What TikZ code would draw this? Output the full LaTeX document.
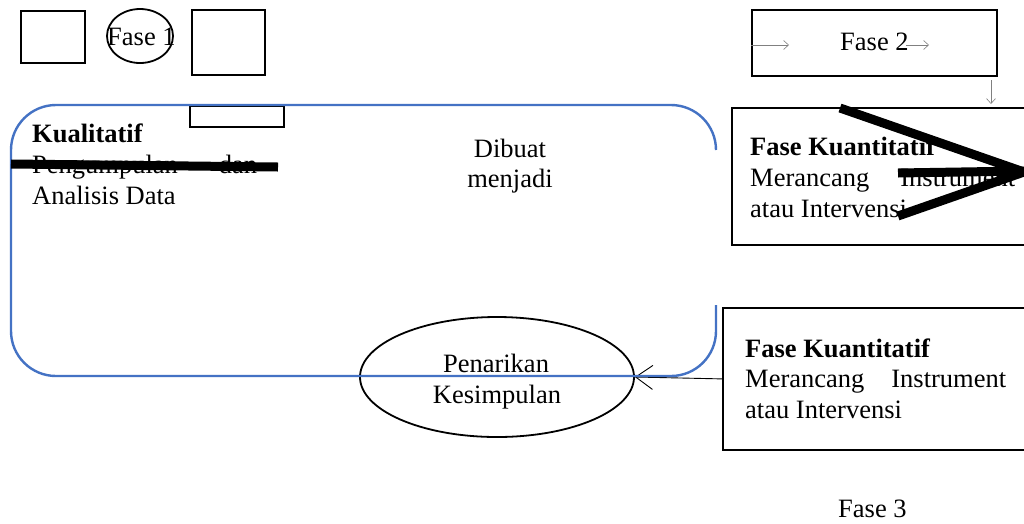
\documentclass[tikz,border=0pt]{standalone}
\usepackage{fontspec}
\setmainfont{Liberation Serif}
\usetikzlibrary{arrows.meta,shapes.geometric}
\definecolor{frameblue}{HTML}{4472C4}
\begin{document}
\begin{tikzpicture}[x=1pt,y=-1pt,
  every node/.style={font=\fontsize{26.5}{31}\selectfont},
  txt/.style={inner sep=0pt, anchor=base west},
  ctxt/.style={inner sep=0pt, anchor=base},
  frame/.style={draw=black, line width=1.8pt, inner sep=0pt, anchor=north west},
  oval/.style={ellipse, draw=black, line width=1.8pt, inner sep=0pt},
  thinarrow/.style={draw=gray, line width=0.6pt, -{Straight Barb[length=5pt,width=9pt]}},
  openarrow/.style={draw=black, line width=0.9pt, -{Straight Barb[length=17pt,width=24pt]}},
  strike/.style={line width=9pt, draw=black},
  blueframe/.style={draw=frameblue, line width=2.4pt, rounded corners=45pt},
  ]
\clip (0,0) rectangle (1024,523);
\fill[white] (0,0) rectangle (1024,523);

% top row: squares and the "Fase 1" oval
\node[frame, minimum width=64pt, minimum height=52pt] (sqA) at (20,10) {};
\node[oval, minimum width=66pt, minimum height=54pt] (ovA) at (140,36) {};
\node[txt] (fase1) at (107,45) {Fase 1};
\node[frame, minimum width=73pt, minimum height=65pt] (sqB) at (191,9) {};
\node[frame, minimum width=94pt, minimum height=21pt] (tab) at (189,105) {};

% Fase 2 box with its small arrows
\node[frame, minimum width=245pt, minimum height=66pt] (f2) at (751,9) {};
\node[txt] (fase2) at (840,50) {Fase 2};
\coordinate (a1s) at (751,45);
\coordinate (a1e) at (789,45);
\coordinate (a2s) at (906,45);
\coordinate (a2e) at (929,45);
\coordinate (dns) at (991,80);
\coordinate (dne) at (991,104);
\draw[thinarrow] (a1s) -- (a1e);
\draw[thinarrow] (a2s) -- (a2e);
\draw[thinarrow] (dns) -- (dne);

% quantitative boxes
\node[frame, minimum width=320pt, minimum height=137pt] (k1) at (731,107) {};
\node[txt, font=\fontsize{26.5}{31}\selectfont\bfseries] (k1a) at (750,155) {Fase Kuantitatif};
\node[txt] (k1b) at (750,186) {\hbox to 265pt{Merancang\hfill Instrument}};
\node[txt] (k1c) at (750,217) {atau Intervensi};

\node[frame, minimum width=320pt, minimum height=142pt] (k2) at (722,307) {};
\node[txt, font=\fontsize{26.5}{31}\selectfont\bfseries] (k2a) at (745,357) {Fase Kuantitatif};
\node[txt] (k2b) at (745,387) {\hbox to 261pt{Merancang\hfill Instrument}};
\node[txt] (k2c) at (745,418) {atau Intervensi};

% qualitative text
\node[txt, font=\fontsize{26.5}{31}\selectfont\bfseries] (q1) at (32,142) {Kualitatif};
\node[txt] (q2) at (32,173) {\hbox to 225pt{Pengumpulan\hfill dan}};
\node[txt] (q3) at (32,204) {Analisis Data};

\node[ctxt] (d1) at (510,157) {Dibuat};
\node[ctxt] (d2) at (510,187) {menjadi};

% conclusion oval
\node[oval, minimum width=274pt, minimum height=120pt] (pk) at (497,377) {};
\node[ctxt] (pk1) at (496,372) {Penarikan};
\node[ctxt] (pk2) at (497,403) {Kesimpulan};
\draw[openarrow] (k2.west) -- (pk.east);

% open blue frame
\draw[blueframe] (716,150) -- (716,105) -- (11,105) -- (11,376) -- (716,376) -- (716,305);

% heavy strokes
\draw[strike] (11,164) -- (278,167);
\draw[strike, line join=miter] (840,108) -- (1024,172) -- (898,216);
\draw[strike] (898,173) -- (1024,171);

\node[txt] (fase3) at (838,517) {Fase 3};
\end{tikzpicture}
\end{document}
